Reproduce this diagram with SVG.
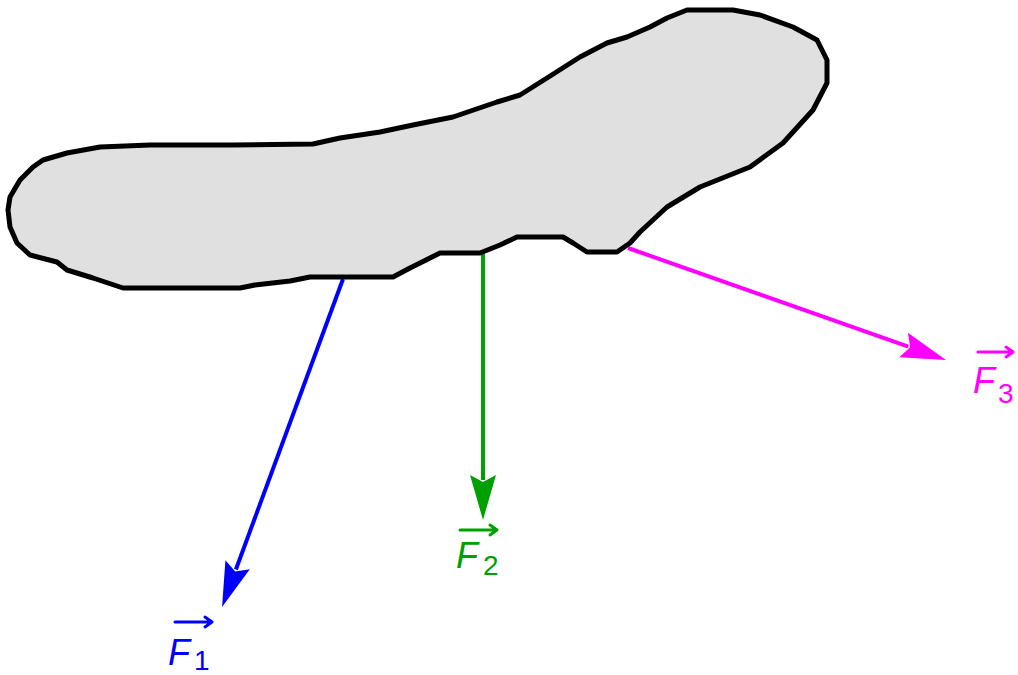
<svg xmlns="http://www.w3.org/2000/svg" width="1018" height="675" viewBox="0 0 1018 675">
<style>
.body{fill:#e0e0e0;stroke:#000;stroke-width:5;stroke-linejoin:round}
.vec{stroke-width:4;fill:none}
.lbl{font-family:"Liberation Sans",Arial,sans-serif;font-style:italic;font-size:36px}
.sub{font-family:"Liberation Sans",Arial,sans-serif;font-size:28px}
.ov{fill:none;stroke-width:3;stroke-linecap:round;stroke-linejoin:round}
</style>
<defs>
<marker id="hb" markerUnits="userSpaceOnUse" markerWidth="60" markerHeight="40" viewBox="-10 -20 60 40" refX="0" refY="0" orient="auto" overflow="visible"><path d="M-5,-13 L40,0 L-5,13 L2,0 z" fill="#0000ff"/></marker>
<marker id="hg" markerUnits="userSpaceOnUse" markerWidth="60" markerHeight="40" viewBox="-10 -20 60 40" refX="0" refY="0" orient="auto" overflow="visible"><path d="M-5,-13 L40,0 L-5,13 L2,0 z" fill="#00a000"/></marker>
<marker id="hm" markerUnits="userSpaceOnUse" markerWidth="60" markerHeight="40" viewBox="-10 -20 60 40" refX="0" refY="0" orient="auto" overflow="visible"><path d="M-5,-13 L40,0 L-5,13 L2,0 z" fill="#ff00ff"/></marker>
</defs>
<rect width="1018" height="675" fill="#fff"/>
<g id="connectors">
<line class="vec" x1="343" y1="279" x2="235.9" y2="569.5" stroke="#0000ff" marker-end="url(#hb)"/>
<line class="vec" x1="483" y1="250" x2="483" y2="480" stroke="#00a000" marker-end="url(#hg)"/>
<line class="vec" x1="628" y1="248" x2="908.3" y2="346.7" stroke="#ff00ff" marker-end="url(#hm)"/>
</g>
<g id="body">
<path class="body" d="M200,145 L233,145 L313,144 L340,138 L380,132 L413,125 L453,117 L497,102 L520,95 L547,78 L580,57 L607,43 L627,37 L650,27 L667,18 L687,10 L733,10 L760,15 L793,27 L817,40 L827,60 L827,83 L813,110 L783,143 L750,167 L700,187 L667,207 L640,232 L630,243 L617,252 L587,252 L573,243 L563,237 L517,237 L500,245 L480,253 L440,253 L410,268 L393,277 L310,277 L290,281 L255,285 L240,288 L123,288 L93,278 L67,270 L57,262 L30,255 L17,243 L10,227 L8,210 L10,197 L20,180 L33,167 L43,160 L67,153 L100,147 L150,145 Z"/>
</g>
<g id="F1" fill="#0000ff">
<path class="ov" stroke="#0000ff" d="M175,622 L212,622 M205,617 L212,622 L205,627"/>
<text class="lbl" x="168" y="665">F</text>
<text class="sub" x="194" y="670">1</text>
</g>
<g id="F2" fill="#00a000">
<path class="ov" stroke="#00a000" d="M460,530 L497,530 M490,525 L497,530 L490,535"/>
<text class="lbl" x="456" y="568">F</text>
<text class="sub" x="483" y="575">2</text>
</g>
<g id="F3" fill="#ff00ff">
<path class="ov" stroke="#ff00ff" d="M978,352 L1013,352 M1006,347 L1013,352 L1006,357"/>
<text class="lbl" x="973" y="393">F</text>
<text class="sub" x="998" y="403">3</text>
</g>
</svg>
